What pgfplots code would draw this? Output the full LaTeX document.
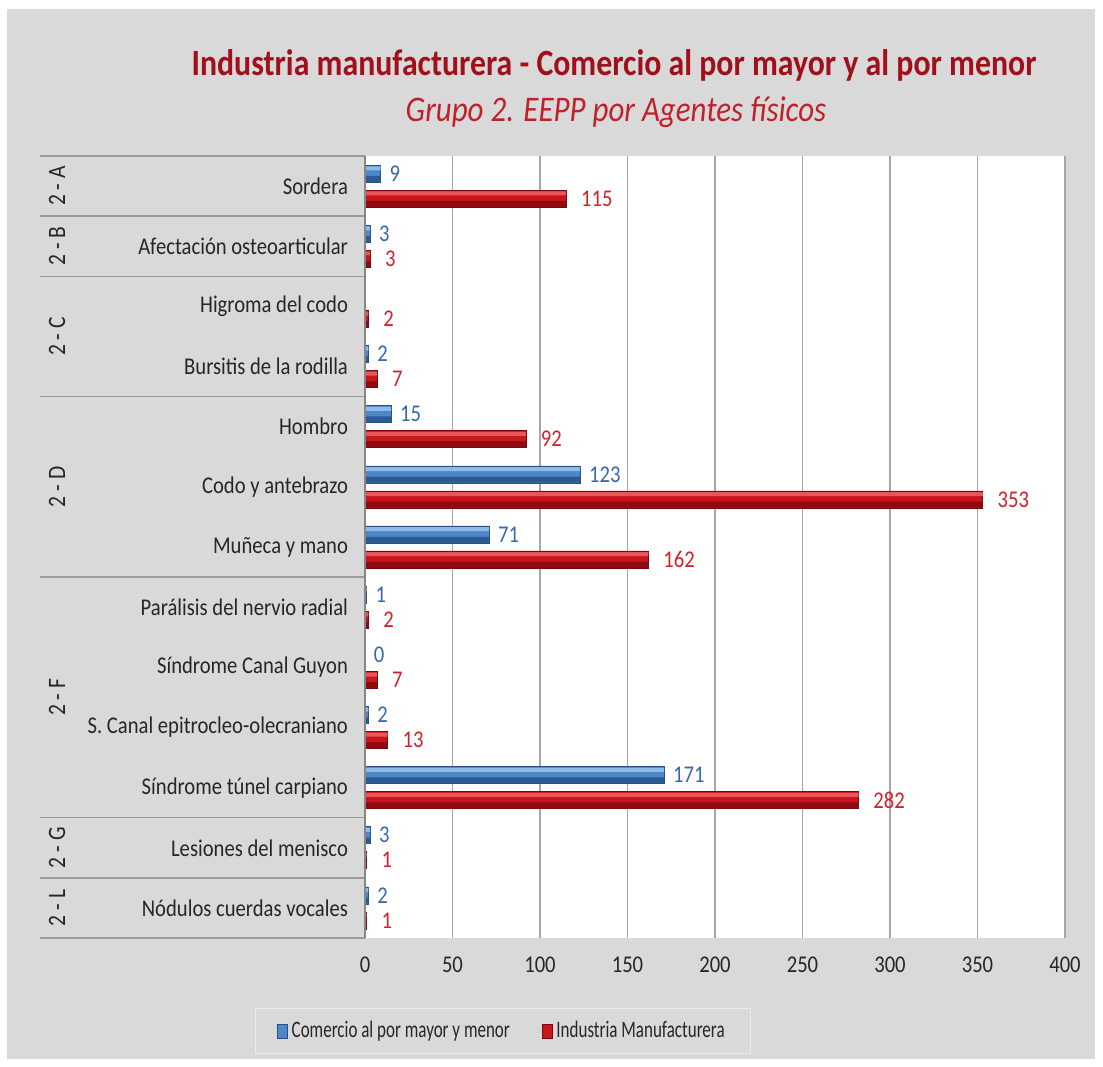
\documentclass[border=0pt]{standalone}
\usepackage{pgfplots}
\pgfplotsset{compat=1.18}
\usepackage{fontspec}
\setmainfont{Carlito}[FakeStretch=0.86]
\newfontfamily\legfont{Carlito}[FakeStretch=0.72]

\definecolor{bgray}{HTML}{D9D9D9}
\definecolor{gridgray}{HTML}{A6A6A6}
\definecolor{sepgray}{HTML}{9A9A9A}
\definecolor{axisgray}{HTML}{868686}
\definecolor{txt}{HTML}{262626}
\definecolor{titlered}{HTML}{A0101A}
\definecolor{subred}{HTML}{C0202A}
\definecolor{bluetop}{HTML}{8CBBEA}
\definecolor{bluemid}{HTML}{4F86C6}
\definecolor{bluebot}{HTML}{2C5A94}
\definecolor{blueedge}{HTML}{284F82}
\definecolor{bluelab}{HTML}{3A68A6}
\definecolor{redtop}{HTML}{E8555A}
\definecolor{redmid}{HTML}{C8161E}
\definecolor{redbot}{HTML}{8C0A10}
\definecolor{rededge}{HTML}{78080C}
\definecolor{redlab}{HTML}{D0222A}

\pgfplotstableread{
v y
9 12
3 11
2 9
15 8
123 7
71 6
1 5
0 4
2 3
171 2
3 1
2 0
}\comercio
\pgfplotstableread{
v y
115 12
3 11
2 10
7 9
92 8
353 7
162 6
2 5
7 4
13 3
282 2
1 1
1 0
}\industria

\begin{document}
\begin{tikzpicture}
\fill[white] (-182.5pt,-64pt) rectangle (369pt,469pt);
\fill[bgray] (-179pt,-60.5pt) rectangle (365pt,464.5pt);
\begin{axis}[
    at={(0pt,0pt)}, anchor=south west,
    scale only axis, width=350pt, height=391pt,
    xbar, bar width=8.5pt,
    xmin=0, xmax=400, ymin=-0.5, ymax=12.5,
    axis background/.style={fill=white},
    axis line style={draw=none},
    xtick={0,50,...,400},
    ytick={0,...,12},
    yticklabels={Nódulos cuerdas vocales, Lesiones del menisco, Síndrome túnel carpiano,
      S. Canal epitrocleo-olecraniano, Síndrome Canal Guyon, Parálisis del nervio radial,
      Muñeca y mano, Codo y antebrazo, Hombro, Bursitis de la rodilla, Higroma del codo,
      Afectación osteoarticular, Sordera},
    major tick length=0pt,
    xmajorgrids, major grid style={draw=gridgray, line width=0.6pt},
    tick label style={font=\fontsize{12}{14}\selectfont, text=txt},
    /pgf/number format/assume math mode=true,
    xticklabel style={yshift=-6pt},
    yticklabel style={xshift=-5pt},
    clip=false,
    point meta=x,
    legend style={at={(0.197,-0.119)}, anchor=center, legend columns=2,
      draw=white!92!black, fill=none, font=\legfont\fontsize{11.8}{13}\selectfont, text=txt,
      inner xsep=11pt, inner ysep=4.5pt,
      /tikz/every even column/.append style={column sep=14pt}},
    legend image code/.code={\fill[#1] (0pt,-3.5pt) rectangle (5pt,3.5pt);},
  ]
  % Comercio al por mayor y menor
  \addplot[bar shift=6.25pt, fill=bluemid, draw=blueedge, line width=0.3pt,
    nodes near coords, nodes near coords style={font=\fontsize{12}{14}\selectfont, text=bluelab, anchor=west, xshift=1pt}]
    table[x=v, y=y] {\comercio};
  \addplot[forget plot, bar shift=3.6pt, bar width=3pt, fill=bluebot, draw=none]
    table[x=v, y=y] {\comercio};
  \addplot[forget plot, bar shift=8.9pt, bar width=2pt, fill=bluetop, draw=none]
    table[x=v, y=y] {\comercio};
  % Industria Manufacturera
  \addplot[bar shift=-6.25pt, fill=redmid, draw=rededge, line width=0.3pt,
    nodes near coords, nodes near coords style={font=\fontsize{12}{14}\selectfont, text=redlab, anchor=west, xshift=4pt}]
    table[x=v, y=y] {\industria};
  \addplot[forget plot, bar shift=-8.9pt, bar width=3pt, fill=redbot, draw=none]
    table[x=v, y=y] {\industria};
  \addplot[forget plot, bar shift=-3.6pt, bar width=2pt, fill=redtop, draw=none]
    table[x=v, y=y] {\industria};
  \legend{Comercio al por mayor y menor, Industria Manufacturera}

  % group separators in the label column
  \draw[sepgray, line width=0.8pt] (axis cs:-185.7,12.5) -- (axis cs:0,12.5);
  \draw[sepgray, line width=0.8pt] (axis cs:-185.7,11.5) -- (axis cs:0,11.5);
  \draw[sepgray, line width=0.8pt] (axis cs:-185.7,10.5) -- (axis cs:0,10.5);
  \draw[sepgray, line width=0.8pt] (axis cs:-185.7,8.5) -- (axis cs:0,8.5);
  \draw[sepgray, line width=0.8pt] (axis cs:-185.7,5.5) -- (axis cs:0,5.5);
  \draw[sepgray, line width=0.8pt] (axis cs:-185.7,1.5) -- (axis cs:0,1.5);
  \draw[sepgray, line width=0.8pt] (axis cs:-185.7,0.5) -- (axis cs:0,0.5);
  \draw[sepgray, line width=0.8pt] (axis cs:-185.7,-0.5) -- (axis cs:0,-0.5);
  \draw[axisgray, line width=0.8pt] (axis cs:0,-0.5) -- (axis cs:0,12.5);

  % group names
  \begin{scope}[every node/.style={rotate=90, font=\fontsize{12.5}{14}\selectfont, text=txt}]
    \node at (axis cs:-176,12) {2 - A};
    \node at (axis cs:-176,11) {2 - B};
    \node at (axis cs:-176,9.5) {2 - C};
    \node at (axis cs:-176,7) {2 - D};
    \node at (axis cs:-176,3.5) {2 - F};
    \node at (axis cs:-176,1) {2 - G};
    \node at (axis cs:-176,0) {2 - L};
  \end{scope}
\end{axis}
\node[anchor=base, font=\fontsize{18.5}{22}\selectfont\bfseries, text=titlered]
  at (124.5pt,431pt) {Industria manufacturera - Comercio al por mayor y al por menor};
\node[anchor=base, font=\fontsize{18}{21}\selectfont\itshape, text=subred]
  at (125.5pt,408pt) {Grupo 2. EEPP por Agentes físicos};
\end{tikzpicture}
\end{document}
